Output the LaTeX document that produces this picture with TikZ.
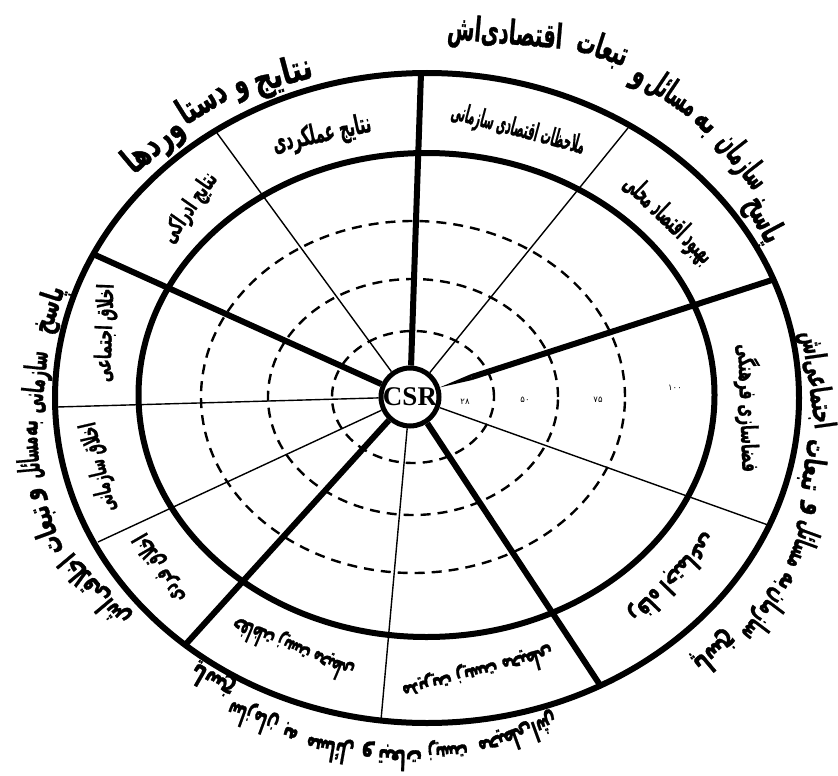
\documentclass[tikz,border=0pt]{standalone}
\usepackage{fontspec}
\usepackage{graphicx}
\usetikzlibrary{calc}
\TeXXeTstate=1
\newfontfamily\arabicfont[Script=Arabic, BoldFeatures={FakeBold=1.2}]{DejaVu Sans}
\newfontfamily\csrfont{Liberation Serif}
% #1 width, #2 total height, #3 text
\newcommand{\fa}[3]{\resizebox*{#1pt}{#2pt}{\arabicfont\bfseries\vphantom{لج}#3}}
\newcommand{\fanum}[1]{{\arabicfont\fontsize{8.5}{8.5}\selectfont #1}}
\pgfdeclarelayer{background}
\pgfsetlayers{background,main}
\begin{document}
\begin{tikzpicture}[x=1pt,y=-1pt,
  thickl/.style={line width=6pt},
  thinl/.style={line width=1.4pt},
  dashl/.style={line width=2.4pt, dash pattern=on 10pt off 7pt},
  tickl/.style={line width=1.4pt},
  lbl/.style={inner sep=0pt, anchor=center}]
\useasboundingbox (0,0) rectangle (838,776);

% centre of dashed rings
\coordinate (C) at (413,397);
% spoke end points on the outer ellipse
\coordinate (T1) at (421,73);
\coordinate (T2) at (772,280);
\coordinate (T3) at (600,685);
\coordinate (T4) at (186,644);
\coordinate (T5) at (93,254);
\coordinate (S1) at (217,133);
\coordinate (S2) at (628,128);
\coordinate (S3) at (768,525);
\coordinate (S4) at (381,720);
\coordinate (S5) at (57,407);
\coordinate (S6) at (98,542);

\node[circle, draw, line width=5pt, fill=white, minimum size=58pt, inner sep=0pt,
  font=\csrfont\bfseries\fontsize{27}{27}\selectfont] (csr) at (410,397) {CSR};

\begin{pgfonlayer}{background}
\fill[white] (0,0) rectangle (838,776);
% dashed rings
\draw[dashl] (C) ellipse [x radius=81pt, y radius=66pt];
\draw[dashl] (C) ellipse [x radius=145pt, y radius=118pt];
\draw[dashl] (C) ellipse [x radius=212pt, y radius=176pt];
% main ellipses
\draw[thickl] (427,398) ellipse [x radius=372pt, y radius=325pt];
\draw[thickl] (426.5,395) ellipse [x radius=288pt, y radius=242pt];
% spokes
\foreach \E in {T1,T3,T4,T5}{\draw[thickl] (csr) -- (\E);}
% tapered start of the right spoke
\coordinate (wb) at ($(csr)!31pt!(T2)$);
\coordinate (wp) at ($(csr)!0.17!(T2)$);
\fill (wb) -- ($(wp)!3pt!90:(T2)$) -- ($(wp)!3pt!-90:(T2)$) -- cycle;
\draw[thickl] (wp) -- (T2);
\foreach \E in {S1,S2,S3,S4,S5,S6}{\draw[thinl] (csr) -- (\E);}
% tick marks where the rings cross the spokes
\foreach \E in {T1,T2,T3,T4,T5,S1,S2,S3,S4,S5,S6}{
  \foreach \ra/\rb in {81/66,145/118,212/176}{
    \path let \p1=($(\E)-(C)$), \n1={1/sqrt((\x1/\ra)^2+(\y1/\rb)^2)} in ($(C)!\n1!(\E)$) coordinate (tk);
    \draw[tickl] ($(tk)!4pt!90:(\E)$) -- ($(tk)!4pt!-90:(\E)$);
  }
}
\end{pgfonlayer}

% scale numbers
\node[lbl] (n25) at (465,402) {\fanum{۲۸}};
\node[lbl] (n50) at (525,400) {\fanum{۵۰}};
\node[lbl] (n75) at (598,400) {\fanum{۷۵}};
\node[lbl] (n100) at (675,388) {\fanum{۱۰۰}};

% cell labels
\node[lbl, rotate=55]   (c1)  at (190,208) {\fa{80}{24}{\beginR نتایج ادراکی\endR}};
\node[lbl, rotate=12]   (c2)  at (322,135) {\fa{100}{27}{\beginR نتایج عملکردی\endR}};
\node[lbl, rotate=-15]  (c3)  at (518,130) {\fa{137}{25}{\beginR ملاحظات اقتصادی سازمانی\endR}};
\node[lbl, rotate=-44]  (c4)  at (668,220) {\fa{114}{28}{\beginR بهبود اقتصاد محلی\endR}};
\node[lbl, rotate=-88]  (c5)  at (748,408) {\fa{128}{27}{\beginR فضاسازی فرهنگی\endR}};
\node[lbl, rotate=-134] (c6)  at (673,578) {\fa{114}{27}{\beginR رفاه اجتماعی\endR}};
\node[lbl, rotate=-165] (c7)  at (478,673) {\fa{155}{26}{\beginR مدیریت زیست محیطی\endR}};
\node[lbl, rotate=157]  (c8)  at (293,648) {\fa{129}{26}{\beginR حفاظت زیست محیطی\endR}};
\node[lbl, rotate=120]  (c9)  at (160,568) {\fa{77}{24}{\beginR اخلاق فردی\endR}};
\node[lbl, rotate=103]  (c10) at (99,467)  {\fa{91}{24}{\beginR اخلاق سازمانی\endR}};
\node[lbl, rotate=88]   (c11) at (106,333) {\fa{98}{23}{\beginR اخلاق اجتماعی\endR}};

% outer title: results
\node[lbl, rotate=15] (r1) at (283,76)  {\fa{60}{36}{\beginR نتایج\endR}};
\node[lbl, rotate=22] (r2) at (240,84)  {\fa{14}{36}{\beginR و\endR}};
\node[lbl, rotate=32] (r3) at (203,104) {\fa{52}{36}{\beginR دستا\endR}};
\node[lbl, rotate=40] (r4) at (154,146) {\fa{68}{36}{\beginR وردها\endR}};

% outer title: economic
\node[lbl, rotate=-62] (e1) at (763,220) {\fa{48}{34}{\beginR پاسخ\endR}};
\node[lbl, rotate=-52] (e2) at (742,162) {\fa{62}{34}{\beginR سازمان\endR}};
\node[lbl, rotate=-42] (e3) at (706,122) {\fa{22}{34}{\beginR به\endR}};
\node[lbl, rotate=-34] (e4) at (672,95)  {\fa{55}{34}{\beginR مسائل\endR}};
\node[lbl, rotate=-28] (e5) at (640,75)  {\fa{13}{34}{\beginR و\endR}};
\node[lbl, rotate=-18] (e6) at (602,50)  {\fa{52}{34}{\beginR تبعات\endR}};
\node[lbl, rotate=-5]  (e7) at (505,35)  {\fa{115}{34}{\beginR اقتصادی‌اش\endR}};

% outer title: social
\node[lbl, rotate=-82]  (s1) at (816,380) {\fa{98}{30}{\beginR اجتماعی‌اش\endR}};
\node[lbl, rotate=-98]  (s2) at (812,465) {\fa{52}{30}{\beginR تبعات\endR}};
\node[lbl, rotate=-103] (s3) at (814,510) {\fa{13}{30}{\beginR و\endR}};
\node[lbl, rotate=-110] (s4) at (802,545) {\fa{48}{30}{\beginR مسائل\endR}};
\node[lbl, rotate=-117] (s5) at (788,582) {\fa{17}{30}{\beginR به\endR}};
\node[lbl, rotate=-127] (s6) at (764,615) {\fa{58}{30}{\beginR سازمان\endR}};
\node[lbl, rotate=-140] (s7) at (715,652) {\fa{48}{30}{\beginR پاسخ\endR}};

% outer title: environmental
\node[lbl, rotate=150] (v1) at (213,680) {\fa{46}{28}{\beginR پاسخ\endR}};
\node[lbl, rotate=160] (v2) at (253,717) {\fa{52}{28}{\beginR سازمان\endR}};
\node[lbl, rotate=165] (v3) at (290,735) {\fa{15}{28}{\beginR به\endR}};
\node[lbl, rotate=170] (v4) at (330,748) {\fa{48}{28}{\beginR مسائل\endR}};
\node[lbl, rotate=175] (v5) at (367,755) {\fa{12}{28}{\beginR و\endR}};
\node[lbl, rotate=178] (v6) at (400,757) {\fa{44}{28}{\beginR تبعات\endR}};
\node[lbl, rotate=185] (v7) at (448,753) {\fa{40}{28}{\beginR زیست\endR}};
\node[lbl, rotate=200] (v8) at (518,735) {\fa{82}{28}{\beginR محیطی‌اش\endR}};

% outer title: ethical
\node[lbl, rotate=72]  (h1) at (50,310) {\fa{48}{30}{\beginR پاسخ\endR}};
\node[lbl, rotate=84]  (h2) at (37,382) {\fa{62}{30}{\beginR سازمانی\endR}};
\node[lbl, rotate=90]  (h3) at (30,428) {\fa{16}{30}{\beginR به\endR}};
\node[lbl, rotate=95]  (h4) at (31,458) {\fa{42}{30}{\beginR مسائل\endR}};
\node[lbl, rotate=100] (h5) at (32,495) {\fa{13}{30}{\beginR و\endR}};
\node[lbl, rotate=110] (h6) at (48,530) {\fa{50}{30}{\beginR تبعات\endR}};
\node[lbl, rotate=130] (h7) at (95,590) {\fa{88}{30}{\beginR اخلاقی‌اش\endR}};
\end{tikzpicture}
\end{document}
